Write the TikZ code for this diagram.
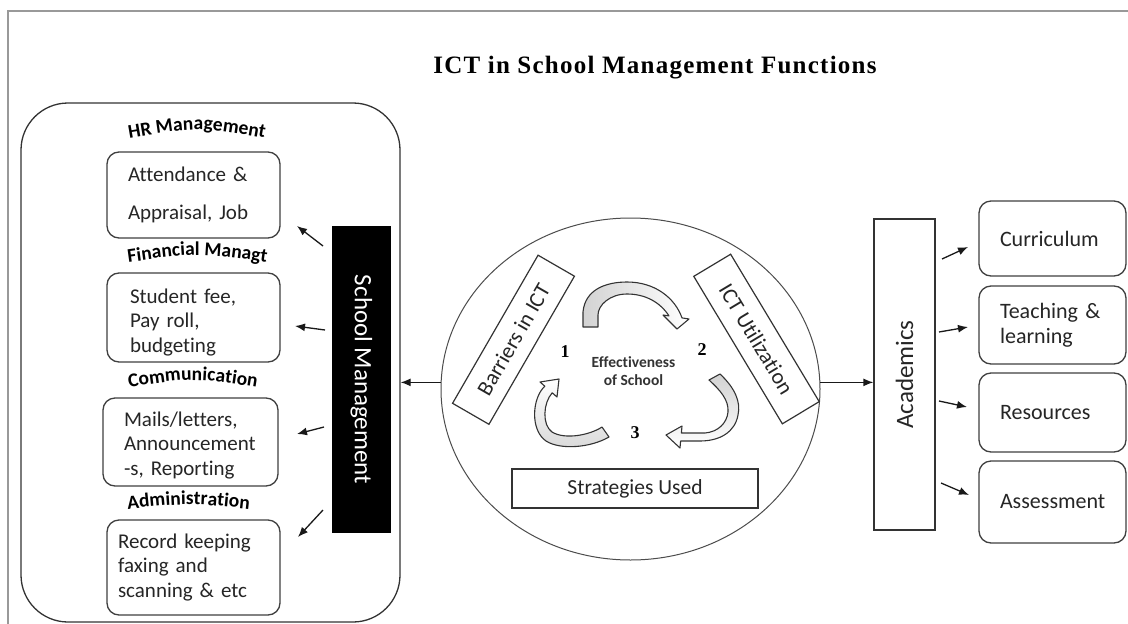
\documentclass[tikz,border=0pt]{standalone}
\usepackage{fontspec}
\setmainfont{Carlito}[Ligatures={NoCommon}]
\newfontfamily\titlefont[LetterSpace=5]{Liberation Serif}
\newfontfamily\numfont{Liberation Serif}
\usetikzlibrary{arrows.meta,shapes.geometric,decorations.text,calc}
\hyphenpenalty=10000
\exhyphenpenalty=10000
\newcommand\hdfont{\fontsize{19.5}{23}\selectfont\bfseries}
\newcommand\bodyfont{\fontsize{21}{24.5}\selectfont}
\newcommand\rbodyfont{\fontsize{22}{25}\selectfont}
\begin{document}
\begin{tikzpicture}[x=1pt,y=-1pt,
  frameline/.style={draw=black!40, line width=2pt},
  box/.style={draw=black!75, line width=1.3pt, rounded corners=12pt, inner sep=0pt,
    font=\bodyfont, text=black!85, align=left},
  rbox/.style={box, font=\rbodyfont},
  plainbox/.style={draw=black!80, line width=1.2pt, inner sep=0pt, text=black!85},
  arr/.style={-{Latex[length=10pt,width=8pt]}, line width=1.3pt, draw=black!90},
  carrow/.style={draw=black!80, line width=1.1pt, line join=round},
  heading/.style={decorate, decoration={text along path, text align=center}},
]
\useasboundingbox (0,0) rectangle (1128,624);
\fill[white] (0,0) rectangle (1128,624);
\draw[frameline] (1128,11) -- (8,11) -- (8,624);

% title
\node[anchor=base, font=\titlefont\bfseries\fontsize{25}{30}\selectfont] (title) at (655,73.5) {ICT in School Management Functions};

% left container
\node[draw=black!80, line width=1.3pt, rounded corners=47pt, minimum width=379pt,
  minimum height=519pt, inner sep=0pt] (outer) at (210.5,362.5) {};

% headings (slightly arched)
\path[heading, decoration={text={|\hdfont|HR Management}}]
  (120,139.8) .. controls (197,126.2) .. (274,139.8);
\path[heading, decoration={text={|\hdfont|Financial Managt}}]
  (120.5,263.4) .. controls (197.5,252.6) .. (274.5,263.4);
\path[heading, decoration={text={|\hdfont|Communication}}]
  (116,389.4) .. controls (193,377.2) .. (270,389.4);
\path[heading, decoration={text={|\hdfont|Administration}}]
  (111.5,510.9) .. controls (188.5,502.5) .. (265.5,510.9);

% left boxes
\node[box, minimum width=173pt, minimum height=86pt, text width=131pt] (hr) at (193.5,195)
  {Attendance \&\\[13.5pt]Appraisal, Job};
\node[box, minimum width=173pt, minimum height=89pt, text width=127pt] (fin) at (193.5,317.5)
  {\rule{0pt}{24pt}Student fee,\\Pay roll,\\budgeting};
\node[box, minimum width=175pt, minimum height=88pt, text width=133pt] (com) at (190.5,442)
  {\rule{0pt}{21pt}Mails/letters,\\Announcement\\-s, Reporting};
\node[box, minimum width=173pt, minimum height=95pt, text width=151pt] (adm) at (193.5,567.5)
  {Record keeping\\faxing and\\scanning \& etc};

% School Management bar
\node[fill=black, minimum width=307pt, minimum height=59pt, rotate=-90, text=white,
  font=\fontsize{25}{30}\selectfont, inner sep=0pt] (sm) at (361.5,379.5) {School Management};

\coordinate (s1) at (323,246); \coordinate (e1) at (297,226);
\coordinate (s2) at (325,330); \coordinate (e2) at (295,326);
\coordinate (s3) at (324,427); \coordinate (e3) at (297,434);
\coordinate (s4) at (323,510); \coordinate (e4) at (298,537);
\draw[arr] (s1) -- (e1);
\draw[arr] (s2) -- (e2);
\draw[arr] (s3) -- (e3);
\draw[arr] (s4) -- (e4);

% central ellipse
\node[ellipse, draw=black!70, line width=1pt, minimum width=379pt, minimum height=342pt,
  inner sep=0pt] (circ) at (630.5,389) {};

\node[plainbox, minimum width=171pt, minimum height=42pt, rotate=60,
  font=\fontsize{22}{26}\selectfont] (barr) at (513.5,339.75) {Barriers in ICT};
\node[plainbox, minimum width=172pt, minimum height=43pt, rotate=-59,
  font=\fontsize{22}{26}\selectfont] (util) at (756.5,339) {ICT Utilization};
\node[plainbox, minimum width=246pt, minimum height=39pt,
  font=\fontsize{21.5}{25}\selectfont] (strat) at (635,488.5) {Strategies Used};

\node[font=\numfont\bfseries\fontsize{18}{20}\selectfont] (n1) at (565,352) {1};
\node[font=\numfont\bfseries\fontsize{18}{20}\selectfont] (n2) at (702,350) {2};
\node[font=\numfont\bfseries\fontsize{18}{20}\selectfont] (n3) at (635,433) {3};
\node[align=center, text=black!80, font=\fontsize{15.5}{18}\selectfont\bfseries] (eff)
  at (633.5,371.5) {Effectiveness\\of School};

% curved block arrows
\draw[carrow, left color=gray!35, right color=white]
  (583,327) -- (583,312) .. controls (585,290) and (605,282) .. (627,282)
  .. controls (655,282) and (675,298) .. (682,317.9) -- (689,319) -- (677,329)
  -- (663,315) -- (669,315.9) .. controls (660,302) and (645,294) .. (627,294)
  .. controls (610,294) and (598,305) .. (598,315) -- (598,327) -- cycle;
\draw[carrow, top color=gray!35, bottom color=white]
  (720,374) .. controls (735,388) and (741,402) .. (738,415)
  .. controls (735,432) and (720,441) .. (700,441) -- (680.6,441) -- (680,448)
  -- (666,435) -- (682,426) -- (681.4,433) -- (705,433)
  .. controls (718,432) and (727,423) .. (728,412)
  .. controls (729,400) and (720,390) .. (709,380) -- cycle;
\draw[carrow, top color=white, bottom color=gray!30]
  (609,437) .. controls (590,448) and (560,450) .. (546,441)
  .. controls (530,430) and (532,398) .. (544.8,386.2) -- (540,382) -- (559,379)
  -- (557,397) -- (552.2,392.8) .. controls (543,403) and (542,425) .. (552,432)
  .. controls (565,440) and (590,435) .. (602,427) -- cycle;

% Academics
\node[plainbox, line width=1.3pt, minimum width=311pt, minimum height=61pt, rotate=90,
  font=\fontsize{25}{30}\selectfont] (acad) at (904.5,374.5) {Academics};

\draw[arr] (circ.178) -- (circ.178 -| outer.east);
\draw[arr] (circ.2) -- (circ.2 -| acad.north);

% right boxes
\node[rbox, minimum width=147pt, minimum height=75pt, text width=105pt] (cur) at (1052.5,238.5) {Curriculum};
\node[rbox, minimum width=147pt, minimum height=78pt, text width=105pt] (teach) at (1052.5,325) {Teaching \&\\learning};
\node[rbox, minimum width=147pt, minimum height=79pt, text width=105pt] (res) at (1052.5,412.5) {Resources};
\node[rbox, minimum width=147pt, minimum height=82pt, text width=105pt] (ass) at (1052.5,502) {Assessment};

\coordinate (r1s) at (942,259); \coordinate (r1e) at (968,247);
\coordinate (r2s) at (939,332); \coordinate (r2e) at (968,327);
\coordinate (r3s) at (939,401); \coordinate (r3e) at (967,407);
\coordinate (r4s) at (941,483); \coordinate (r4e) at (969,495);
\draw[arr] (r1s) -- (r1e);
\draw[arr] (r2s) -- (r2e);
\draw[arr] (r3s) -- (r3e);
\draw[arr] (r4s) -- (r4e);
\end{tikzpicture}
\end{document}
